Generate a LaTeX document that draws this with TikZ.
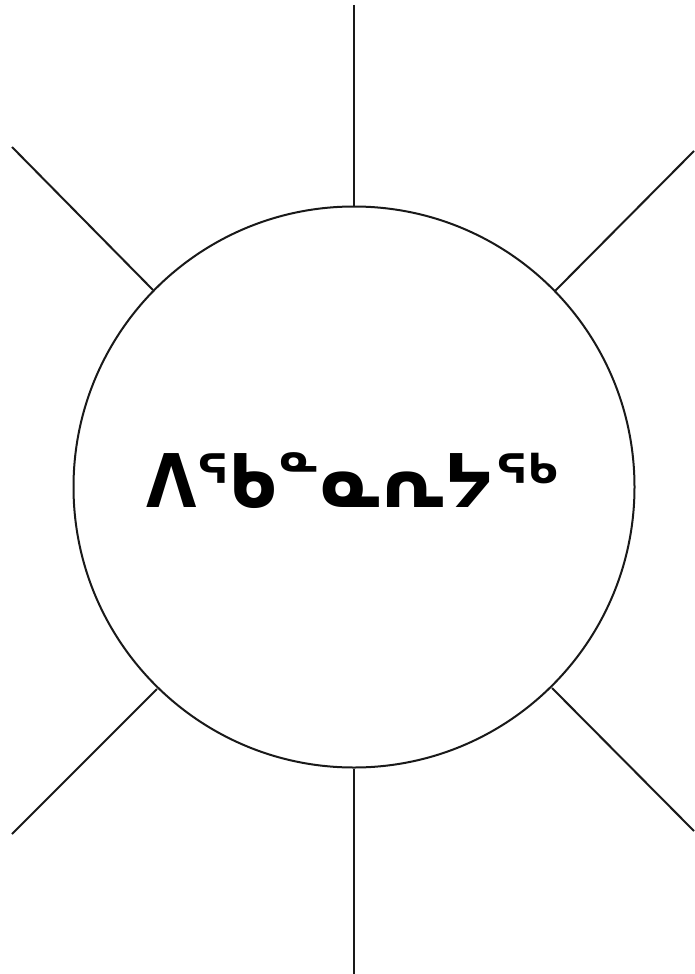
\documentclass[tikz,border=0pt]{standalone}
\usepackage{fontspec}
\newfontfamily\syllfont{DejaVu Sans}
\begin{document}
\begin{tikzpicture}[x=1pt,y=-1pt,
  ray/.style={line width=2pt,draw=black!90},
  hub/.style={circle,draw=black!90,line width=2pt,minimum size=561pt,inner sep=0pt}]
\useasboundingbox (0,0) rectangle (694,974);
\node[hub] (c) at (354,487) {};
\node (t) at (353,481) {\scalebox{0.88}[1]{\syllfont\bfseries\fontsize{74}{80}\selectfont ᐱᖃᓐᓇᕆᔭᖅ}};
\coordinate (pT) at (354,5);
\coordinate (pB) at (354,974);
\coordinate (pUL) at (12,147);
\coordinate (pUR) at (694,151);
\coordinate (pLL) at (12,834);
\coordinate (pLR) at (694,831);
\draw[ray] (pT) -- (c.north);
\draw[ray] (pB) -- (c.south);
\draw[ray] (pUL) -- (153,290);
\draw[ray] (pUR) -- (555,291);
\draw[ray] (pLL) -- (157,689);
\draw[ray] (pLR) -- (552,688);
\end{tikzpicture}
\end{document}
